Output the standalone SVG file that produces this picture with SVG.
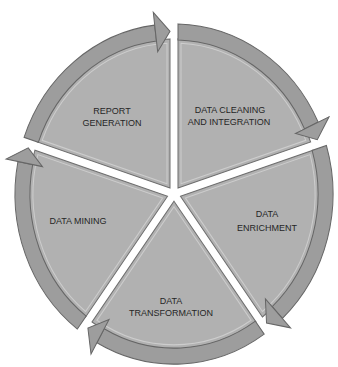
<svg xmlns="http://www.w3.org/2000/svg" xmlns:xlink="http://www.w3.org/1999/xlink" width="338" height="367" viewBox="0 0 338 367">
  <style>
    .wedge { fill: #b1b1b1; stroke: #6e6e6e; stroke-width: 1; }
    .inset { fill: none; stroke: #cdcdcd; stroke-width: 1; }
    .ring { fill: #9d9d9d; stroke: #666666; stroke-width: 1; }
    .head { fill: #9d9d9d; stroke: #666666; stroke-width: 1; stroke-linejoin: miter; }
    .label { font-family: "Liberation Sans", Arial, sans-serif; font-size: 9px; fill: #262626; text-anchor: middle; }
  </style>
  <defs>
    <g id="sector">
      <path class="wedge" d="M -4.00 -5.50 L -136.62 -48.59 A 145 145 0 0 1 -4.00 -144.94 Z"/>
      <path class="inset" d="M -7.00 -9.63 L -131.78 -50.18 A 141 141 0 0 1 -7.00 -140.83 Z"/>
      <path class="ring" d="M -149.94 -52.92 A 159 159 0 0 1 -19.38 -157.82 L -17.55 -142.93 A 144 144 0 0 0 -135.67 -48.28 Z"/>
      <path class="head" d="M -16.33 -133.00 L -20.72 -169.73 L -3.98 -151.95 Z"/>
    </g>
  </defs>
  <rect width="338" height="367" fill="#ffffff"/>
  <g id="connectors"></g>
  <g id="report-generation">
    <use xlink:href="#sector" href="#sector" transform="translate(174,194) scale(1,1.07)"/>
    <text class="label" x="112" y="114">REPORT</text>
    <text class="label" x="112" y="126">GENERATION</text>
  </g>
  <g id="data-cleaning">
    <use xlink:href="#sector" href="#sector" transform="translate(174,194) scale(1,1.07) rotate(72)"/>
    <text class="label" x="230" y="113">DATA CLEANING</text>
    <text class="label" x="229" y="125">AND INTEGRATION</text>
  </g>
  <g id="data-enrichment">
    <use xlink:href="#sector" href="#sector" transform="translate(174,194) scale(1,1.07) rotate(144)"/>
    <text class="label" x="267" y="217">DATA</text>
    <text class="label" x="267" y="231">ENRICHMENT</text>
  </g>
  <g id="data-transformation">
    <use xlink:href="#sector" href="#sector" transform="translate(174,194) scale(1,1.07) rotate(216)"/>
    <text class="label" x="171" y="304">DATA</text>
    <text class="label" x="171" y="316">TRANSFORMATION</text>
  </g>
  <g id="data-mining">
    <use xlink:href="#sector" href="#sector" transform="translate(174,194) scale(1,1.07) rotate(288)"/>
    <text class="label" x="78" y="224">DATA MINING</text>
  </g>
</svg>
